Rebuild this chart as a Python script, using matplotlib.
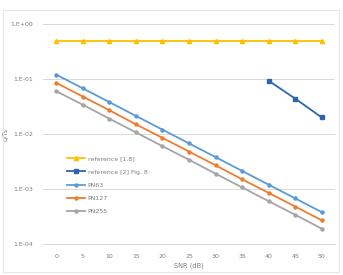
import matplotlib
matplotlib.use("Agg")
import matplotlib.pyplot as plt
from matplotlib.patches import Rectangle

snr = [0, 5, 10, 15, 20, 25, 30, 35, 40, 45, 50]
ref18 = [0.5, 0.5, 0.5, 0.5, 0.5, 0.5, 0.5, 0.5, 0.5, 0.5, 0.5]
ref2_snr = [40, 45, 50]
ref2 = [0.093, 0.044, 0.020]
pn63 = [0.12, 0.0675, 0.038, 0.0213, 0.012, 0.00675, 0.0038, 0.00213, 0.0012, 0.000675, 0.00038]
pn127 = [0.085, 0.048, 0.027, 0.015, 0.0085, 0.0048, 0.0027, 0.0015, 0.00085, 0.00048, 0.00027]
pn255 = [0.06, 0.034, 0.019, 0.0107, 0.006, 0.0034, 0.0019, 0.00107, 0.0006, 0.00034, 0.00019]
yticks = [1e-4, 1e-3, 1e-2, 1e-1, 1e0]
ytick_labels = ["1.E-04", "1.E-03", "1.E-02", "1.E-01", "1.E+00"]
labels = ["reference [1,8]", "reference [2] Fig. 8", "PN63", "PN127", "PN255"]
colors = ["#FFC000", "#2F64AE", "#5B9BD5", "#ED7D31", "#A5A5A5"]

fig = plt.figure(figsize=(3.43, 2.75), dpi=100)
fig.patch.set_facecolor("white")
fig.patches.append(Rectangle((0.009, 0.01), 0.978, 0.955, transform=fig.transFigure,
                             fill=False, edgecolor="#E6E6E6", linewidth=0.8))
ax = fig.add_axes([0.1254, 0.1127, 0.8513, 0.80])

idx = list(range(len(snr)))
idx2 = [snr.index(s) for s in ref2_snr]
lw = 1.3
ms = 3
ax.plot(idx, ref18, color=colors[0], lw=lw, marker="^", ms=ms, label=labels[0])
ax.plot(idx2, ref2, color=colors[1], lw=lw, marker="s", ms=ms, label=labels[1])
ax.plot(idx, pn63, color=colors[2], lw=lw, marker="o", ms=2.2, label=labels[2])
ax.plot(idx, pn127, color=colors[3], lw=lw, marker="o", ms=2.2, label=labels[3])
ax.plot(idx, pn255, color=colors[4], lw=lw, marker="o", ms=2.2, label=labels[4])

ax.set_yscale("log")
ax.set_ylim(1e-4, 1e0)
ax.set_xlim(-0.5, len(snr) - 0.5)
ax.set_yticks(yticks)
ax.set_yticklabels(ytick_labels)
ax.yaxis.set_minor_locator(matplotlib.ticker.NullLocator())
ax.set_xticks(idx)
ax.set_xticklabels([str(s) for s in snr])
ax.tick_params(axis="both", length=0, labelsize=4.5, labelcolor="#7F7F7F", pad=7)
ax.grid(axis="y", color="#D9D9D9", lw=0.7)
ax.set_axisbelow(True)
for s in ax.spines.values():
    s.set_visible(False)
ax.spines["bottom"].set_visible(True)
ax.spines["bottom"].set_color("#D9D9D9")
ax.spines["bottom"].set_linewidth(0.7)

ax.set_xlabel("SNR (dB)", fontsize=4.8, color="#7F7F7F", labelpad=3)
ax.set_ylabel("σ/Ts", fontsize=4.8, color="#7F7F7F", labelpad=1.5)

leg = ax.legend(loc="upper left", bbox_to_anchor=(0.07, 0.414), fontsize=4.5, frameon=False,
                handlelength=3.0, handletextpad=0.4, labelspacing=1.25, borderpad=0)
for t in leg.get_texts():
    t.set_color("#7F7F7F")

fig.savefig("out.png", dpi=100)
